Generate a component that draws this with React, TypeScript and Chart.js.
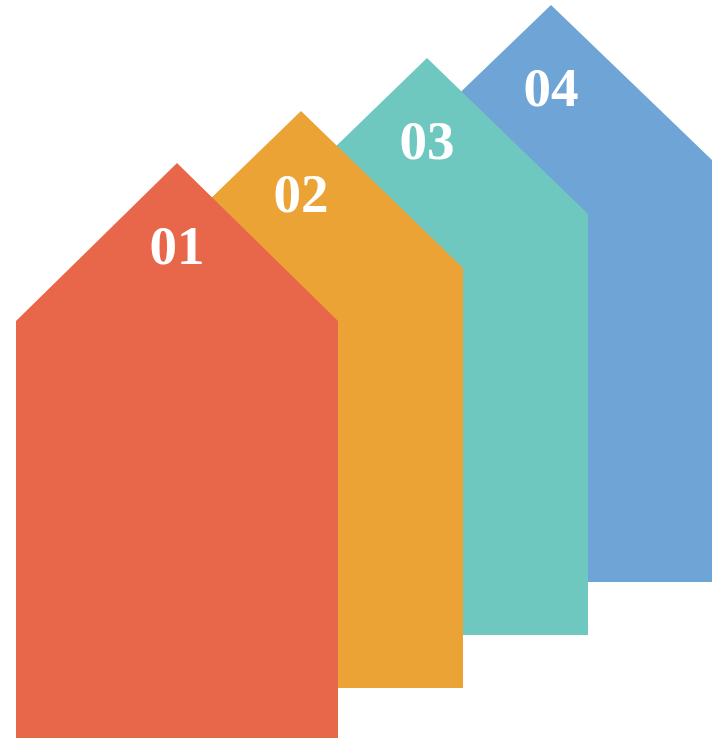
import React, { useEffect, useRef } from "react";
import { Chart, registerables } from "chart.js";

Chart.register(...registerables);

// Data
const labels = ["01", "02", "03", "04"];
const centerX = [177, 301, 427, 551];
const peakY = [163, 111, 58, 5];
const baseY = [745, 688, 635, 582];
const halfWidth = [161, 162, 161, 161];
const roofDrop = [158, 157, 156, 155];
const colors = ["#E8664A", "#EBA336", "#6FC8BF", "#6FA4D6"];

const labelPlugin = {
  id: "houseLabels",
  afterDatasetsDraw(chart: any) {
    const { ctx, scales } = chart;
    const x = scales.x;
    const y = scales.y;
    ctx.save();
    ctx.fillStyle = "#FFFFFF";
    ctx.font = "bold 55px 'Liberation Serif'";
    ctx.textAlign = "center";
    ctx.textBaseline = "alphabetic";
    labels.forEach((l, i) => {
      ctx.fillText(l, x.getPixelForValue(centerX[i]), y.getPixelForValue(peakY[i] + 101));
    });
    ctx.restore();
  },
};

export default function App() {
  const ref = useRef<HTMLCanvasElement | null>(null);
  useEffect(() => {
    document.body.style.margin = "0";
    if (!ref.current) return;
    const datasets = labels.map((l, i) => ({
      label: l,
      data: [
        { x: centerX[i] - halfWidth[i], y: peakY[i] + roofDrop[i] },
        { x: centerX[i], y: peakY[i] },
        { x: centerX[i] + halfWidth[i], y: peakY[i] + roofDrop[i] },
      ],
      borderWidth: 0,
      borderColor: colors[i],
      backgroundColor: colors[i],
      pointRadius: 0,
      tension: 0,
      fill: { value: baseY[i] },
      order: i,
    }));
    const chart = new Chart(ref.current, {
      type: "line",
      data: { datasets },
      options: {
        animation: false,
        responsive: false,
        maintainAspectRatio: false,
        layout: { padding: 0 },
        plugins: { legend: { display: false }, tooltip: { enabled: false } },
        scales: {
          x: { type: "linear", min: 0, max: 713, display: false },
          y: { type: "linear", min: 0, max: 738, reverse: true, display: false },
        },
      },
      plugins: [labelPlugin],
    });
    return () => chart.destroy();
  }, []);
  return (
    <div style={{ position: "absolute", left: 0, top: 0, width: 713, height: 738 }}>
      <canvas ref={ref} width={713} height={738} />
    </div>
  );
}
